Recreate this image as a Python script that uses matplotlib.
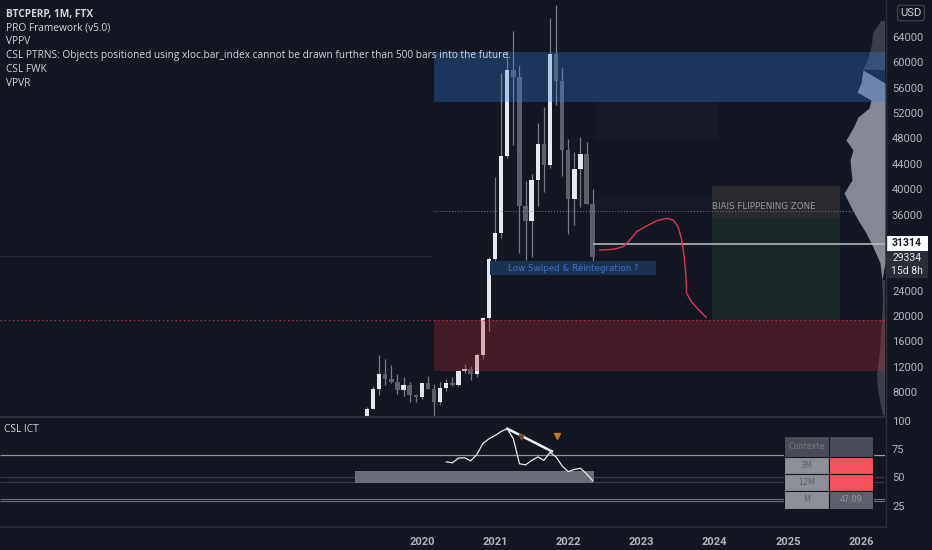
import numpy as np
import matplotlib.pyplot as plt
from matplotlib.patches import Rectangle

# BTCPERP monthly candles, Apr 2019 -> May 2022 (month index 0 = Apr 2019)
opens = [4100, 5300, 8550, 10800, 10100, 9600, 8300, 9150, 7550,
         7200, 9350, 8550, 6400, 8620, 9450, 9140, 11340, 11650, 10780, 13800, 19700,
         28990, 33100, 45200, 58800, 57700, 37300, 35000, 41500, 47100, 43800, 61300, 57000,
         46200, 38500, 43200, 45500, 37700]
highs = [5600, 9000, 13880, 13200, 12300, 10900, 10400, 9500, 7750,
         9600, 10500, 9200, 9500, 10080, 10400, 11450, 12470, 12080, 14100, 19900, 29300,
         41950, 58350, 61800, 64900, 59600, 41300, 42400, 50500, 52900, 67000, 69000, 59100,
         47900, 45800, 48200, 47400, 40000]
lows = [4050, 5300, 7450, 9100, 9400, 7700, 7300, 6500, 6400,
        6850, 8450, 3850, 6150, 8100, 8900, 8970, 10950, 9900, 10400, 13200, 17600,
        28100, 32300, 44950, 47000, 30000, 28800, 29300, 37300, 39600, 43300, 53300, 42000,
        32900, 34300, 37200, 37600, 26700]
closes = [5300, 8550, 10800, 10100, 9600, 8300, 9150, 7550, 7200,
          9350, 8550, 6400, 8620, 9450, 9140, 11340, 11650, 10780, 13800, 19700, 28990,
          33100, 45200, 58800, 57700, 37300, 35000, 41500, 47100, 43800, 61300, 57000, 46200,
          38500, 43200, 45500, 37700, 29334]

# zones (month index, price)
supply_zone = (11.0, 53750, 61575)
demand_zone = (11.0, 11340, 19370)
dotted_level = 36500
red_level = 19370
old_level = 29450
last_price = 31314
lswipe_box = (20.2, 47.4, 26460, 28660)
bias_box = (56.6, 77.5, 19370, 35430, 40470)

# projected path
proj_m = [38.2, 40.4, 42.0, 43.1, 44.2, 45.85, 47.5, 49.1, 50.2, 51.0, 51.6, 52.0, 52.3, 52.4, 53.2, 54.3, 55.6]
proj_p = [30400, 30510, 30920, 31980, 33290, 34190, 35020, 35400, 35130, 34075, 31980, 29340, 26180, 23560, 22240, 21040, 19780]

# volume profile (price level, width in px)
vp_price = [66500, 64630, 62740, 61480, 60060, 58800, 56740, 55320, 54060, 52800, 51380, 49650, 47750,
            46170, 44600, 43020, 41440, 39390, 37180, 35130, 33080, 30870, 28350, 25670, 22510,
            19360, 16200, 13050, 10680, 8320, 5950, 4300]
vp_width = [4, 12, 13, 15, 18, 22, 24, 28, 14, 16, 27, 32, 39,
            32, 35, 34, 33, 41, 34, 27, 19, 12, 5, 3, 2,
            3, 4, 6, 8, 7, 4, 2]

# CSL ICT oscillator
ict_month = list(range(13, 38))
ict_vals = [63.7, 62.8, 67.0, 67.3, 64.6, 70.0, 80.0, 84.0, 87.0, 90.5, 93.0, 84.0, 62.0,
            61.0, 65.0, 68.0, 65.0, 72.0, 68.0, 60.0, 55.0, 57.0, 58.0, 53.0, 47.09]
trend_m = [23, 30.3]
trend_v = [93, 73]
ict_bar = (-2, 37.2, 45, 55.4)

price_ticks = [8000, 12000, 16000, 20000, 24000, 36000, 40000, 44000, 48000, 52000, 56000, 60000, 64000]
year_ticks = [9, 21, 33, 45, 57, 69, 81]
year_labels = ['2020', '2021', '2022', '2023', '2024', '2025', '2026']

bg = '#131722'
W, H = 932, 550
XL = (-60.16, 84.92)

fig = plt.figure(figsize=(9.32, 5.5), dpi=100, facecolor=bg)
ax = fig.add_axes([0, 1 - 416 / H, 885 / W, 416 / H], facecolor=bg)
ax2 = fig.add_axes([0, 1 - 527 / H, 885 / W, 111 / H], facecolor=bg)

for a in (ax, ax2):
    for s in a.spines.values():
        s.set_visible(False)
    a.set_xlim(*XL)
    a.yaxis.tick_right()
    a.tick_params(length=0, labelcolor='#b2b5be', labelsize=8, pad=5, labelfontfamily='Roboto')

ax.set_ylim(4214, 69837)
ax.set_yticks(price_ticks)
ax.set_xticks([])

# candles
x = np.arange(len(opens))
o, h, l, c = map(np.array, (opens, highs, lows, closes))
up = c >= o
ax.vlines(x, l, h, color='#787b86', lw=0.9, zorder=2)
body = np.where(np.abs(c - o) < 250, 250, c - o)
ax.bar(x[up], body[up], bottom=o[up], width=0.72, color='#e6e8ee', zorder=2.5)
ax.bar(x[~up], body[~up], bottom=o[~up], width=0.72, color='#5d606b', zorder=2.5)

# volume profile
vp_x = XL[1] - np.array(vp_width) / 6.1
vp_p = np.array(vp_price)
ax.fill_betweenx(vp_p, vp_x, XL[1], where=(vp_p < 57500) & (vp_p > 27500),
                 color='#868993', lw=0, zorder=1, interpolate=True)
ax.fill_betweenx(vp_p, vp_x, XL[1], where=(vp_p >= 57000) | (vp_p <= 28000),
                 color='#3b3f4a', lw=0, zorder=1, interpolate=True)

# faint boxes
ax.add_patch(Rectangle((37.4, 47750), 20.1, 6300, color='#171b26', zorder=0.5, lw=0))
ax.add_patch(Rectangle((37.4, 36700), 20.1, 2000, color='#161a25', zorder=0.5, lw=0))

# zones
x0 = supply_zone[0]
ax.add_patch(Rectangle((x0, supply_zone[1]), XL[1] - x0, supply_zone[2] - supply_zone[1],
                       facecolor='#3a7be0', alpha=0.3, lw=0, zorder=3))
ax.add_patch(Rectangle((x0, demand_zone[1]), XL[1] - x0, demand_zone[2] - demand_zone[1],
                       facecolor='#b22833', alpha=0.3, lw=0, zorder=3))
ax.hlines(red_level, XL[0], XL[1], color='#a8324a', lw=1.0, linestyles=(0, (1, 2)), zorder=3)
ax.hlines(dotted_level, x0, XL[1], color='#787b86', lw=0.7, linestyles=(0, (1, 2)), zorder=3)
ax.hlines(old_level, XL[0], 10.6, color='#262a35', lw=1.0, zorder=1)
ax.hlines(last_price, x[-1], XL[1], color='#b2b5be', lw=1.2, zorder=4)

# low swiped label
b = lswipe_box
ax.add_patch(Rectangle((b[0], b[2]), b[1] - b[0], b[3] - b[2], facecolor='#1c3152', lw=0, zorder=3))
ax.text((b[0] + b[1]) / 2, (b[2] + b[3]) / 2, 'Low Swiped & Réintegration ?', color='#3f6fc9',
        fontsize=6.3, ha='center', va='center', zorder=4)

# biais flippening zone
b = bias_box
ax.add_patch(Rectangle((b[0], b[3]), b[1] - b[0], b[4] - b[3], facecolor='#29292e', lw=0, zorder=1.5))
ax.add_patch(Rectangle((b[0], b[2]), b[1] - b[0], b[3] - b[2], facecolor='#1b2827', lw=0, zorder=1.5))
ax.text(b[0], 37300, 'BIAIS FLIPPENING ZONE', color='#9598a1', fontsize=6.3, ha='left',
        va='center', zorder=4)

ax.plot(proj_m, proj_p, color='#d9364f', lw=1.0, zorder=4)

# lower pane
ax2.set_ylim(6.1, 104.2)
ax2.set_yticks([100, 75, 50, 25])
ax2.set_xticks(year_ticks)
ax2.set_xticklabels(year_labels, fontweight='bold', family='Roboto')
ax2.tick_params(axis='x', labelsize=8, pad=7)

ax2.hlines(70, *XL, color='#9598a1', lw=0.9)
ax2.hlines(50, *XL, color='#363a45', lw=0.9)
ax2.hlines(45.5, *XL, color='#363a45', lw=0.9)
ax2.hlines(30.6, *XL, color='#6a6d78', lw=0.8)
ax2.hlines(29.2, *XL, color='#6a6d78', lw=0.8)
ib = ict_bar
ax2.add_patch(Rectangle((ib[0], ib[2]), ib[1] - ib[0], ib[3] - ib[2], facecolor='#6a6d78', lw=0, zorder=2))
ax2.plot(ict_month, ict_vals, color='#e6e8ee', lw=0.9, zorder=3)
ax2.plot(trend_m, trend_v, color='#f0f3fa', lw=1.8, zorder=3)
ax2.plot([31.1], [86.5], marker='v', color='#c47a1c', ms=5, zorder=4)
ax2.plot([25.3], [86.0], marker='v', color='#6b4a20', ms=3.5, zorder=4)

# context table (axes coords)
def cell(x0, x1, y0, y1, fc, txt, tc):
    ax2.add_patch(Rectangle((x0, y0), x1 - x0, y1 - y0, transform=ax2.transAxes,
                            facecolor=fc, edgecolor=bg, lw=0.8, zorder=5))
    if txt:
        ax2.text((x0 + x1) / 2, (y0 + y1) / 2, txt, transform=ax2.transAxes, ha='center',
                 va='center', fontsize=5.8, color=tc, zorder=6)

def fx(px):
    return px / 885

def fy(py):
    return (527 - py) / 111

cell(fx(784), fx(829), fy(457), fy(436), '#4a4d57', 'Contexte', '#73767f')
cell(fx(829), fx(873), fy(457), fy(436), '#4a4d57', '', '#73767f')
cell(fx(784), fx(829), fy(474), fy(457), '#8c8f98', '3M', '#5d606b')
cell(fx(829), fx(873), fy(474), fy(457), '#f7525f', '', '#5d606b')
cell(fx(784), fx(829), fy(491), fy(474), '#8c8f98', '12M', '#5d606b')
cell(fx(829), fx(873), fy(491), fy(474), '#f7525f', '', '#5d606b')
cell(fx(784), fx(829), fy(509), fy(491), '#8c8f98', 'M', '#5d606b')
cell(fx(829), fx(873), fy(509), fy(491), '#5d606b', '47.09', '#9598a1')

ax2.text(4 / 885, fy(430), 'CSL ICT', transform=ax2.transAxes, color='#d1d4dc', fontsize=7.3,
         family='Open Sans', va='center')

# separators
fig.add_artist(plt.Line2D([0, 885 / W], [1 - 416.5 / H] * 2, color='#2a2e39', lw=1.5))
fig.add_artist(plt.Line2D([0, 885 / W], [1 - 527 / H] * 2, color='#2a2e39', lw=1.2))
fig.add_artist(plt.Line2D([885.5 / W] * 2, [1 - 527 / H, 1], color='#2a2e39', lw=1.0))

# legend text
legend = [('BTCPERP, 1M, FTX', 'bold'), ('PRO Framework (v5.0)', 'normal'), ('VPPV', 'normal'),
          ('CSL PTRNS: Objects positioned using xloc.bar_index cannot be drawn further than 500 bars into the future.', 'normal'),
          ('CSL FWK', 'normal'), ('VPVR', 'normal')]
for i, (t, wgt) in enumerate(legend):
    fig.text(6 / W, 1 - (14 + 13.8 * i) / H, t, color='#d1d4dc', fontsize=7.3, fontweight=wgt,
             family='Open Sans', va='center', ha='left')

# price labels on axis
def flabel(y0, y1, fc):
    fig.add_artist(Rectangle((887 / W, 1 - y1 / H), 41 / W, (y1 - y0) / H, transform=fig.transFigure,
                             facecolor=fc, edgecolor='none'))

flabel(236, 251, '#ffffff')
fig.text(907 / W, 1 - 243 / H, '31314', color='#131722', fontsize=7.5, family='Roboto',
         fontweight='bold', ha='center', va='center')
flabel(251, 278, '#2a2e39')
fig.text(907 / W, 1 - 258 / H, '29334', color='#e6e8ee', fontsize=7.5, family='Roboto',
         ha='center', va='center')
fig.text(907 / W, 1 - 270.5 / H, '15d 8h', color='#e6e8ee', fontsize=7.5, family='Roboto',
         ha='center', va='center')
fig.text(911 / W, 1 - 13 / H, 'USD', color='#d1d4dc', fontsize=8, family='Roboto', ha='center',
         va='center', bbox=dict(boxstyle='round,pad=0.25', facecolor=bg, edgecolor='#434651', lw=0.8))

fig.savefig('out.png', dpi=100, facecolor=bg)
